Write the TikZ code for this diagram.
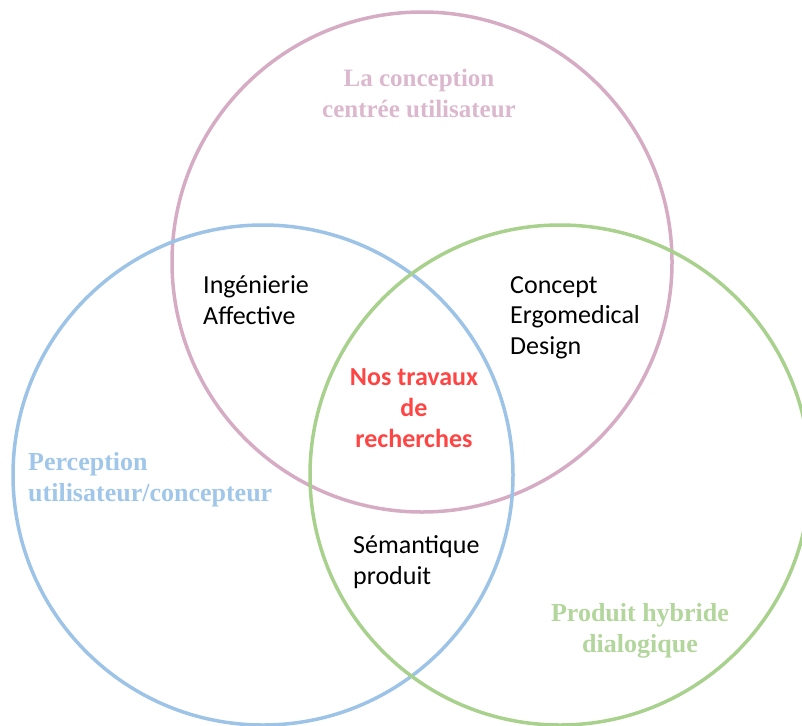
\documentclass[tikz,border=0pt]{standalone}
\usepackage{fontspec}
\setmainfont{Liberation Serif}
\newfontfamily\calibri{Carlito}
\usepackage{xcolor}
\usepackage{tikz}
\usetikzlibrary{positioning}

\definecolor{rose}{RGB}{214,172,196}
\definecolor{roseText}{RGB}{219,184,205}
\definecolor{bleu}{RGB}{157,195,230}
\definecolor{bleuText}{RGB}{160,199,233}
\definecolor{vert}{RGB}{169,209,142}
\definecolor{vertText}{RGB}{178,214,156}
\definecolor{rouge}{RGB}{255,68,68}

\begin{document}
\begin{tikzpicture}[x=1pt, y=-1pt]
    % Define node styles
    \tikzstyle{ensemble} = [circle, draw, line width=3.5pt, minimum size=500pt, inner sep=0pt]
    \tikzstyle{titre} = [font=\fontsize{26}{31}\selectfont\bfseries, inner sep=0pt]
    \tikzstyle{zone} = [font=\calibri\fontsize{26}{30.5}\selectfont, align=left, inner sep=0pt, anchor=base west]

    \useasboundingbox (0,0) rectangle (802,725);

    % The three sets
    \node[ensemble, draw=rose] (ucd) at (422,262) {};
    \node[ensemble, draw=bleu] (perc) at (263,475) {};
    \node[ensemble, draw=vert] (hyb) at (560,475) {};

    % Set titles (anchored on the baseline of the last line)
    \node[titre, text=roseText, align=center, anchor=base, font=\fontsize{25}{31}\selectfont\bfseries] (tucd) at (419,117)
        {La conception\\centrée utilisateur};
    \node[titre, text=bleuText, align=left, anchor=base west] (tperc) at (28,501)
        {Perception\\utilisateur/concepteur};
    \node[titre, text=vertText, align=center, anchor=base] (thyb) at (640,652)
        {Produit hybride\\dialogique};

    % Intersections
    \node[zone] (ia) at (203,324) {Ingénierie\\Affective};
    \node[zone] (ced) at (510,354) {Concept\\Ergomedical\\Design};
    \node[zone] (sp) at (353,584) {Sémantique\\produit};
    \node[zone, text=rouge, align=center, anchor=base, font=\calibri\fontsize{26}{31}\selectfont\bfseries] (nos) at (414,447)
        {Nos travaux\\de\\recherches};
\end{tikzpicture}
\end{document}
